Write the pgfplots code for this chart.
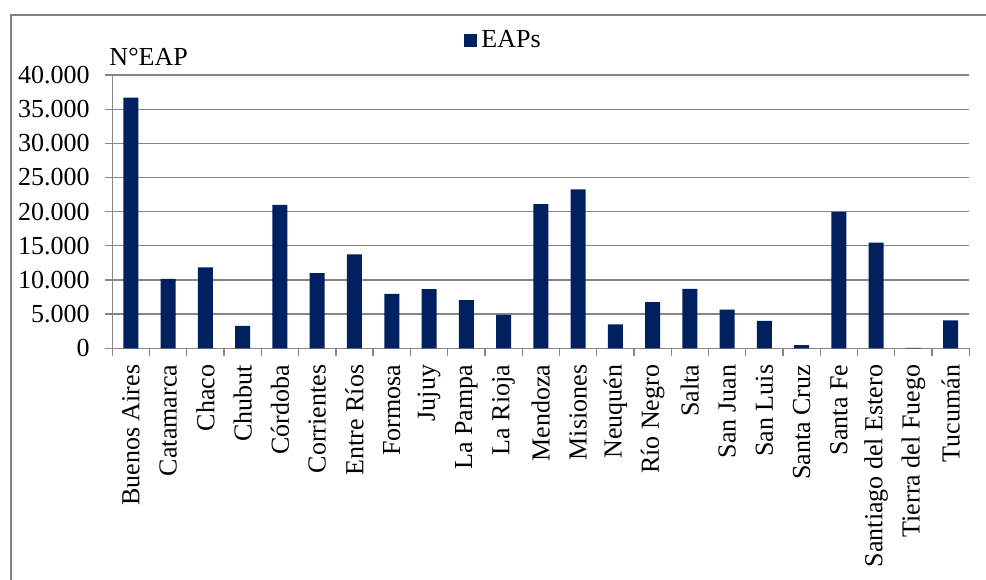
\documentclass[border=0pt]{standalone}
\usepackage{fontspec}
\setmainfont{Liberation Serif}
\usepackage{pgfplots}
\pgfplotsset{compat=1.18}
\definecolor{barnavy}{RGB}{0,32,96}
\definecolor{gridgray}{RGB}{134,134,134}
\definecolor{framegray}{RGB}{128,128,128}

\begin{document}
\begin{tikzpicture}
\path[use as bounding box, clip] (0,0) rectangle (493pt,289.5pt);
% chart area border (open on the right and bottom)
\draw[framegray, line width=0.9pt] (5.5pt,-20pt) -- (5.5pt,282pt) -- (520pt,282pt);
\begin{axis}[
  at={(56.15pt,115.35pt)}, anchor=south west,
  scale only axis, width=428.5pt, height=136.65pt,
  clip=false,
  ybar, bar width=7.5pt,
  xmin=-0.5, xmax=22.5, ymin=0, ymax=40000,
  axis lines=left, axis line style={-, gridgray, line width=0.65pt},
  ytick={0,5000,...,40000},
  scaled y ticks=false,
  yticklabel style={/pgf/number format/.cd, 1000 sep={.}, fixed, assume math mode=true,
    /tikz/.cd, xshift=-4pt},
  ymajorgrids, major grid style={gridgray, line width=0.65pt},
  tick align=outside, major tick length=3.75pt, minor tick length=3.75pt,
  ytick style={gridgray, line width=0.65pt},
  xtick={0,...,22},
  minor xtick={-0.5,0.5,...,22.5},
  major x tick style={draw=none},
  minor x tick style={gridgray, line width=0.65pt},
  xticklabels={Buenos Aires,Catamarca,Chaco,Chubut,Córdoba,Corrientes,Entre Ríos,Formosa,Jujuy,La Pampa,La Rioja,Mendoza,Misiones,Neuquén,Río Negro,Salta,San Juan,San Luis,Santa Cruz,Santa Fe,Santiago del Estero,Tierra del Fuego,Tucumán},
  xticklabel style={rotate=90, anchor=east, xshift=-1pt},
  tick label style={font=\fontsize{13}{15}\selectfont},
  legend style={draw=none, fill=none, at={(rel axis cs:0.4104,1.1255)}, anchor=west,
    inner sep=0pt, font=\fontsize{13}{15}\selectfont},
]
\addplot[fill=barnavy, draw=none,
  legend image code/.code={\fill[barnavy] (0pt,-3.25pt) rectangle (6.5pt,3.25pt);}]
  coordinates {
  (0,36700) (1,10150) (2,11850) (3,3300) (4,21000) (5,11000)
  (6,13750) (7,7950) (8,8650) (9,7050) (10,4900) (11,21100)
  (12,23250) (13,3500) (14,6750) (15,8700) (16,5650) (17,4000)
  (18,450) (19,19950) (20,15450) (21,60) (22,4100)
};
\addlegendentry{EAPs}
\node[anchor=base west, inner sep=0pt, font=\fontsize{13}{15}\selectfont]
  at (rel axis cs:0,1) [xshift=-1.6pt, yshift=5pt] {N°EAP};
\end{axis}
\end{tikzpicture}
\end{document}
